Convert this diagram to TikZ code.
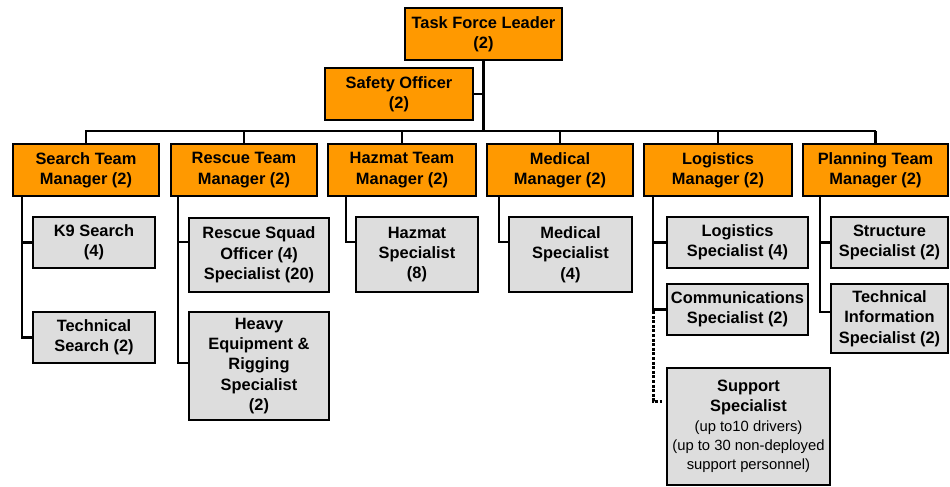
\documentclass[tikz,border=0pt]{standalone}
\usepackage{fontspec}
\setmainfont{Liberation Sans}
\definecolor{mgrorange}{HTML}{FF9900}
\definecolor{subgray}{HTML}{DDDDDD}
\tikzset{
  basebox/.style={draw=black, line width=1.9pt, inner sep=0pt, align=center,
    font=\bfseries\fontsize{16.4}{20.3}\selectfont},
  mgrbox/.style={basebox, fill=mgrorange},
  subbox/.style={basebox, fill=subgray},
  conn/.style={line width=2.8pt},
  busline/.style={line width=2pt},
  dotconn/.style={line width=3pt, dash pattern=on 3pt off 1.6pt}
}
\begin{document}
\begin{tikzpicture}[x=1pt,y=-1pt]
\useasboundingbox (0,0) rectangle (950,487);

\coordinate (busL) at (85,131);
\coordinate (busR) at (876,131);

% top
\node[mgrbox, minimum width=157, minimum height=52] (tfl) at (483.5,34) {Task Force Leader\\(2)};
\node[mgrbox, minimum width=148, minimum height=52] (safety) at (399,94) {Safety Officer\\(2)};

% managers
\node[mgrbox, minimum width=146, minimum height=52] (search) at (86,170) {Search Team\\Manager (2)};
\node[mgrbox, minimum width=146, minimum height=52] (rescue) at (244,170) {Rescue Team\\Manager (2)};
\node[mgrbox, minimum width=148, minimum height=52] (hazmat) at (402,170) {Hazmat Team\\Manager (2)};
\node[mgrbox, minimum width=146, minimum height=52] (medical) at (560,170) {Medical\\Manager (2)};
\node[mgrbox, minimum width=148, minimum height=52] (logistics) at (718,170) {Logistics\\Manager (2)};
\node[mgrbox, minimum width=145, minimum height=52] (planning) at (875.5,170) {Planning Team\\Manager (2)};

% sub boxes
\node[subbox, minimum width=122, minimum height=51] (k9) at (94,242.5) {K9 Search\\(4)};
\node[subbox, minimum width=122, minimum height=51] (techsearch) at (94,337.5) {Technical\\Search (2)};
\node[subbox, minimum width=140, minimum height=74] (squad) at (259,255) {Rescue Squad\\Officer (4)\\Specialist (20)};
\node[subbox, minimum width=140, minimum height=108] (heavy) at (259,366) {Heavy\\Equipment \&\\Rigging\\Specialist\\(2)};
\node[subbox, minimum width=122, minimum height=75] (hzspec) at (417,254.5) {Hazmat\\Specialist\\(8)};
\node[subbox, minimum width=123, minimum height=75] (medspec) at (570.5,254.5) {Medical\\Specialist\\(4)};
\node[subbox, minimum width=141, minimum height=51] (logspec) at (737.5,242.5) {Logistics\\Specialist (4)};
\node[subbox, minimum width=141, minimum height=51] (comms) at (737.5,309.5) {Communications\\Specialist (2)};
\node[subbox, minimum width=163, minimum height=117] (support) at (748.5,426.5) {Support\\Specialist\\[-1pt]{\mdseries\fontsize{14.8}{19}\selectfont (up to10 drivers)}\\[-1pt]{\mdseries\fontsize{14.8}{19}\selectfont (up to 30 non-deployed}\\[-1pt]{\mdseries\fontsize{14.8}{19}\selectfont support personnel)}};
\node[subbox, minimum width=117, minimum height=51] (structure) at (889.5,242.5) {Structure\\Specialist (2)};
\node[subbox, minimum width=117, minimum height=69] (techinfo) at (889.5,318.5) {Technical\\Information\\Specialist (2)};

\draw[busline] (busL) -- (busR);
\draw[conn] (tfl.south) -- (tfl.south |- busL);
\draw[conn] (safety.east) -- (safety.east -| tfl.south);
\foreach \m in {search,rescue,hazmat,medical,logistics,planning}
  \draw[conn] (\m.north) -- (\m.north |- busL);

% search
\coordinate (st) at (22,196);
\draw[conn] (st) |- (k9.west);
\draw[conn] (st) |- (techsearch.west);
% rescue
\coordinate (rt) at (178,196);
\draw[conn] (rt) |- ([yshift=13pt]squad.west);
\draw[conn] (rt) |- ([yshift=3pt]heavy.west);
% hazmat
\coordinate (ht) at (346,196);
\draw[conn] (ht) |- ([yshift=12.5pt]hzspec.west);
% medical
\coordinate (mt) at (499,196);
\draw[conn] (mt) |- ([yshift=12.5pt]medspec.west);
% logistics
\coordinate (lt) at (653,196);
\draw[conn] (lt) |- (logspec.west);
\draw[conn] (lt) |- (comms.west);
\coordinate (lb) at (653,311);
\draw[dotconn] (lb) |- ([xshift=-4pt,yshift=25.5pt]support.west);
% planning
\coordinate (pt) at (820,196);
\draw[conn] (pt) |- (structure.west);
\draw[conn] (pt) |- ([yshift=6.5pt]techinfo.west);
\end{tikzpicture}
\end{document}
